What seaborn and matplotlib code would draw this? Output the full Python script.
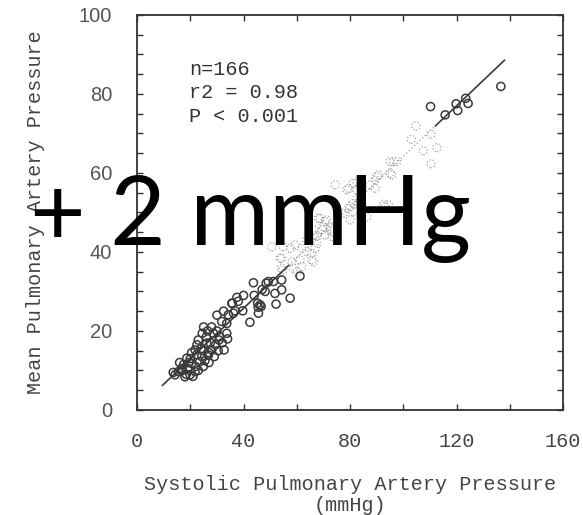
import numpy as np
import pandas as pd
import matplotlib
matplotlib.use("Agg")
import matplotlib.pyplot as plt
import seaborn as sns

# ---- data ----
spap_lower = [13.6, 14.3, 15.5, 16.8, 18.0, 18.7, 19.9, 21.8, 17.5, 19.0, 20.5, 22.0, 23.5, 24.9,
              24.3, 26.8, 21.8, 23.0, 24.5, 26.2, 28.1, 30.5, 32.7, 30.8, 28.7, 33.7, 31.8, 33.7,
              34.3, 35.8, 36.8, 39.7, 36.2, 35.6, 42.4, 45.3, 45.5, 22.5, 25.0, 27.0, 20.0, 23.0,
              25.5, 27.5, 29.5, 26.0, 28.0, 30.0, 31.0, 25.0, 22.5, 19.5, 17.0, 16.0, 21.0, 24.0,
              27.0, 29.0, 32.0, 34.0, 30.0, 32.5, 38.0, 40.0, 37.5, 43.7, 48.5, 51.2, 54.3, 61.2,
              48.1, 51.8, 54.3, 52.2, 57.5, 46.2, 45.6, 49.3, 46.6, 44.0, 47.0, 20.5, 26.5, 18.5]
mpap_lower = [9.5, 8.9, 9.7, 10.5, 8.4, 13.1, 8.9, 9.7, 11.5, 10.5, 11.8, 11.0, 12.2, 11.0,
              13.5, 13.9, 15.2, 17.7, 19.4, 16.9, 15.2, 15.0, 15.2, 17.7, 19.4, 19.4, 22.4, 21.9,
              24.1, 27.0, 25.1, 25.1, 24.5, 27.0, 22.2, 27.0, 26.0, 14.0, 15.0, 14.5, 13.0, 10.0,
              12.5, 17.0, 16.5, 18.5, 21.0, 20.0, 18.5, 21.0, 16.5, 12.0, 10.0, 12.0, 8.5, 15.5,
              12.0, 13.5, 17.0, 18.0, 24.0, 25.0, 27.5, 29.0, 28.5, 32.2, 32.1, 32.5, 32.9, 33.9,
              30.0, 29.5, 30.4, 26.8, 28.3, 26.6, 24.5, 32.5, 26.2, 29.0, 30.5, 14.5, 20.0, 9.0]

spap_upper = [110.2, 115.7, 119.8, 120.4, 123.4, 124.3, 136.6]
mpap_upper = [76.8, 74.7, 77.5, 75.8, 78.9, 77.6, 81.9]

spap_faded = [104.7, 110.4, 103.0, 112.6, 107.5, 110.4, 95.0, 97.5, 95.7, 90.0, 96.3, 95.0, 90.6,
              89.4, 94.4, 92.5, 81.2, 78.8, 82.5, 83.8, 80.0, 81.2, 80.0, 86.3, 74.4, 71.2, 68.7,
              72.5, 70.0, 66.2, 65.0, 50.6, 55.0, 57.5, 59.3, 61.9, 63.7, 65.6, 66.9, 54.3, 58.1,
              61.2, 66.2, 65.0, 67.5, 70.6, 73.1, 67.5, 53.7, 54.3, 58.7, 61.9, 65.6, 63.7, 66.2,
              69.4, 72.5, 68.1, 70.6, 73.1, 77.5, 79.4, 81.2, 83.1, 83.8, 82.5, 83.8, 82.5, 87.5,
              89.4, 93.1, 79.4, 54.7, 60.0]
mpap_faded = [71.9, 69.8, 68.5, 66.4, 65.6, 62.3, 62.9, 62.9, 59.5, 59.0, 62.9, 59.9, 59.5,
              56.1, 51.9, 52.0, 57.4, 55.7, 53.6, 52.3, 51.5, 50.2, 48.1, 48.9, 57.0, 48.1, 48.5,
              45.6, 46.4, 45.6, 43.0, 41.3, 41.3, 40.9, 41.8, 40.9, 40.1, 39.7, 40.9, 38.4, 37.5,
              38.0, 37.5, 43.0, 43.9, 44.3, 43.9, 42.2, 38.4, 35.9, 35.9, 36.3, 38.0, 43.0, 44.3,
              45.6, 46.4, 48.5, 47.7, 45.1, 49.8, 51.0, 52.3, 52.3, 53.6, 55.7, 57.0, 57.8, 57.0,
              58.2, 51.5, 56.1, 35.4, 35.0]

fit_slope = 0.641
fit_intercept = 0.1
fit_x_low = [9.5, 57.0]
fit_x_mid = [57.0, 112.0]
fit_x_high = [112.0, 138.0]

stats_lines = ["n=166", "r2 = 0.98", "P < 0.001"]
x_ticks = [0, 40, 80, 120, 160]
y_ticks = [0, 20, 40, 60, 80, 100]

# ---- plot ----
sns.set_style("ticks")
plt.rcParams['font.family'] = ['Liberation Mono', 'DejaVu Sans']

fig = plt.figure(figsize=(5.83, 5.15), dpi=100)
ax = fig.add_axes([0.235, 0.204, 0.731, 0.767])

df_solid = pd.DataFrame({"s": spap_lower + spap_upper, "m": mpap_lower + mpap_upper})
df_faded = pd.DataFrame({"s": spap_faded, "m": mpap_faded})

sns.scatterplot(data=df_faded, x="s", y="m", ax=ax, marker="o", s=34,
                facecolor="none", edgecolor="#a0a0a0", linewidth=0.9, linestyle=":", zorder=2)
sns.scatterplot(data=df_solid, x="s", y="m", ax=ax, marker="o", s=34,
                facecolor="none", edgecolor="#3a3a3a", linewidth=1.1, zorder=3)

fx = np.array(fit_x_low)
ax.plot(fx, fit_slope * fx + fit_intercept, color="#3a3a3a", lw=1.2, zorder=4)
fx = np.array(fit_x_mid)
ax.plot(fx, fit_slope * fx + fit_intercept, color="#aaaaaa", lw=1.0, ls=":", zorder=4)
fx = np.array(fit_x_high)
ax.plot(fx, fit_slope * fx + fit_intercept, color="#3a3a3a", lw=1.2, zorder=4)

ax.set_xlim(0, 160)
ax.set_ylim(0, 100)
ax.set_xticks(x_ticks)
ax.set_yticks(y_ticks)
ax.set_xticks(np.arange(0, 161, 20), minor=True)
ax.set_yticks(np.arange(0, 101, 5), minor=True)
ax.set_xticklabels([str(t) for t in x_ticks], fontsize=14.5, color="#444444",
                   family=['Liberation Mono'])
ax.set_yticklabels([str(t) for t in y_ticks], fontsize=14.5, color="#555555",
                   family=['Liberation Sans'])
ax.tick_params(axis="both", which="both", direction="in", top=True, right=True,
               length=4, width=1.0, color="#333333")
ax.tick_params(axis="x", which="major", pad=16)
ax.tick_params(axis="y", which="major", pad=18)
for sp in ax.spines.values():
    sp.set_visible(True)
    sp.set_color("#333333")
    sp.set_linewidth(1.3)

ax.set_xlabel("Systolic Pulmonary Artery Pressure\n(mmHg)", fontsize=14.5,
              color="#444444", labelpad=17, linespacing=1.15)
ax.set_ylabel("Mean Pulmonary Artery Pressure", fontsize=14.5, color="#444444",
              labelpad=24)

for i, line in enumerate(stats_lines):
    ax.text(19.5, 86.3 - i * 6.0, line, fontsize=14.5, color="#333333",
            va="center", ha="left", family=['Liberation Mono'])

fig.text(30 / 583, 1 - 245 / 515, "+ 2 mmHg", fontsize=69, color="black",
         family=['Lato', 'DejaVu Sans'], ha="left", va="baseline", zorder=10)

fig.savefig("out.png", dpi=100)
